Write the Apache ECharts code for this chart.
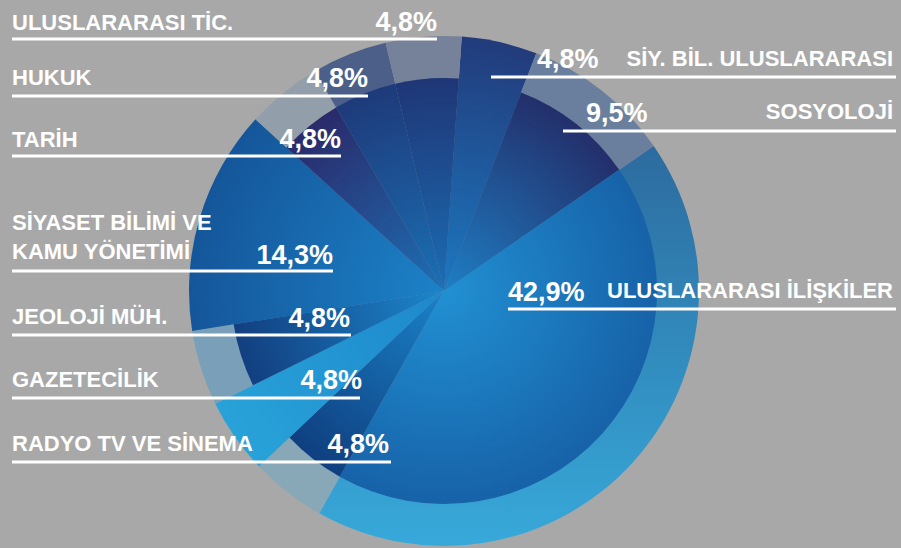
<!DOCTYPE html>
<html>
<head>
<meta charset="utf-8">
<script src="https://cdn.jsdelivr.net/npm/echarts@6/dist/echarts.min.js"></script>
<style>
  html, body { margin: 0; padding: 0; background: #a8a8a8; }
  #chart { width: 901px; height: 548px; }
</style>
</head>
<body>
<div id="chart"></div>
<script>
// ---- data (clockwise from top) ----
const categories = [
  'SİY. BİL. ULUSLARARASI',
  'SOSYOLOJİ',
  'ULUSLARARASI İLİŞKİLER',
  'RADYO TV VE SİNEMA',
  'GAZETECİLİK',
  'JEOLOJİ MÜH.',
  'SİYASET BİLİMİ VE\nKAMU YÖNETİMİ',
  'TARİH',
  'HUKUK',
  'ULUSLARARASI TİC.'
];
const shares = [4.8, 9.5, 42.9, 4.8, 4.8, 4.8, 14.3, 4.8, 4.8, 4.8];

// ---- styles ----
const CX = 444, CY = 291, R_IN = 213, R_OUT = 255;
const innerCenter = ['#1c78c0', '#1e7fc5', '#2190d2', '#1a82c8', '#1d88cc', '#1c86cb', '#1c82c8', '#1d70b5', '#1a70b5', '#1b6db3'];
const innerEdge   = ['#223b7b', '#232f6b', '#1762a8', '#0f3f80', '#28a2d8', '#123f80', '#15569a', '#2a2a6a', '#1e3a7a', '#1f3676'];
const fullRadius  = [true, false, false, false, true, false, true, false, false, false];
const ringColor   = [null, '#6a7f9e', null, '#88a8b8', null, '#79a0b8', null, '#939eab', '#4b5f89', '#76819a'];

function radial(c0, c1, r) {
  return { type: 'radial', x: CX, y: CY, r: r, global: true,
    colorStops: [{ offset: 0, color: c0 }, { offset: 1, color: c1 }] };
}
function linearV(y0, y1, c0, c1) {
  return { type: 'linear', x: 0, y: y0, x2: 0, y2: y1, global: true,
    colorStops: [{ offset: 0, color: c0 }, { offset: 1, color: c1 }] };
}
function innerFill(i) {
  return radial(innerCenter[i], innerEdge[i], fullRadius[i] ? R_OUT : R_IN);
}
function ringFill(i) {
  if (fullRadius[i]) return innerFill(i);
  if (i === 2) return linearV(36, 546, '#2a5a8e', '#37a9da');
  return ringColor[i];
}

const fmt = v => v.toFixed(1).replace('.', ',') + '%';

// label layout rows (index into categories)
const rows = [
  { i: 9, side: 'L', nb: 30,  vb: 31,  ly: 39,  vx: 437, lx1: 12,  lx2: 437 },
  { i: 8, side: 'L', nb: 85,  vb: 87,  ly: 96,  vx: 368, lx1: 12,  lx2: 368 },
  { i: 7, side: 'L', nb: 147, vb: 148, ly: 156, vx: 341, lx1: 12,  lx2: 341 },
  { i: 6, side: 'L', nb: 230, vb: 264, ly: 271, vx: 333, lx1: 12,  lx2: 333 },
  { i: 5, side: 'L', nb: 324, vb: 327, ly: 335, vx: 350, lx1: 12,  lx2: 351 },
  { i: 4, side: 'L', nb: 387, vb: 389, ly: 398, vx: 362, lx1: 12,  lx2: 360 },
  { i: 3, side: 'L', nb: 451, vb: 453, ly: 462, vx: 389, lx1: 12,  lx2: 391 },
  { i: 0, side: 'R', nb: 66,  vb: 68,  ly: 77,  vx: 537, lx1: 491, lx2: 896 },
  { i: 1, side: 'R', nb: 119, vb: 122, ly: 131, vx: 586, lx1: 563, lx2: 896 },
  { i: 2, side: 'R', nb: 298, vb: 301, ly: 309, vx: 508, lx1: 508, lx2: 896 }
];
const NAME_FS = 22, VAL_FS = 27, FONT = '"Liberation Sans", Arial, sans-serif';

const graphics = [];
rows.forEach(r => {
  const lines = categories[r.i].split('\n');
  lines.forEach((t, k) => {
    const base = r.nb + k * 29;
    graphics.push({
      type: 'text', silent: true, z: 100,
      style: {
        text: t,
        x: r.side === 'L' ? 12 : 893,
        y: base - 0.35 * NAME_FS,
        align: r.side === 'L' ? 'left' : 'right',
        verticalAlign: 'middle',
        font: 'bold ' + NAME_FS + 'px ' + FONT,
        fill: '#ffffff'
      }
    });
  });
  graphics.push({
    type: 'text', silent: true, z: 100,
    style: {
      text: fmt(shares[r.i]),
      x: r.vx,
      y: r.vb - 0.35 * VAL_FS,
      align: r.side === 'L' ? 'right' : 'left',
      verticalAlign: 'middle',
      font: 'bold ' + VAL_FS + 'px ' + FONT,
      fill: '#ffffff'
    }
  });
  graphics.push({
    type: 'line', silent: true, z: 100,
    shape: { x1: r.lx1, y1: r.ly, x2: r.lx2, y2: r.ly },
    style: { stroke: '#ffffff', lineWidth: 3 }
  });
});

const chart = echarts.init(document.getElementById('chart'), null, { renderer: 'svg' });
chart.setOption({
  backgroundColor: '#a8a8a8',
  animation: false,
  series: [
    {
      // outer layer (ring colours), full disc underneath
      type: 'pie', silent: true, z: 1, center: [CX, CY], radius: [0, R_OUT],
      startAngle: 86, clockwise: true, label: { show: false }, labelLine: { show: false },
      itemStyle: { borderWidth: 0 },
      data: categories.map((n, i) => ({ name: n, value: shares[i],
        itemStyle: { color: ringFill(i) } }))
    },
    {
      // inner disc on top
      type: 'pie', silent: true, z: 2, center: [CX, CY], radius: [0, R_IN],
      startAngle: 86, clockwise: true, label: { show: false }, labelLine: { show: false },
      itemStyle: { borderWidth: 0 },
      data: categories.map((n, i) => ({ name: n, value: shares[i],
        itemStyle: { color: innerFill(i) } }))
    }
  ],
  graphic: { elements: graphics }
});
</script>
</body>
</html>
